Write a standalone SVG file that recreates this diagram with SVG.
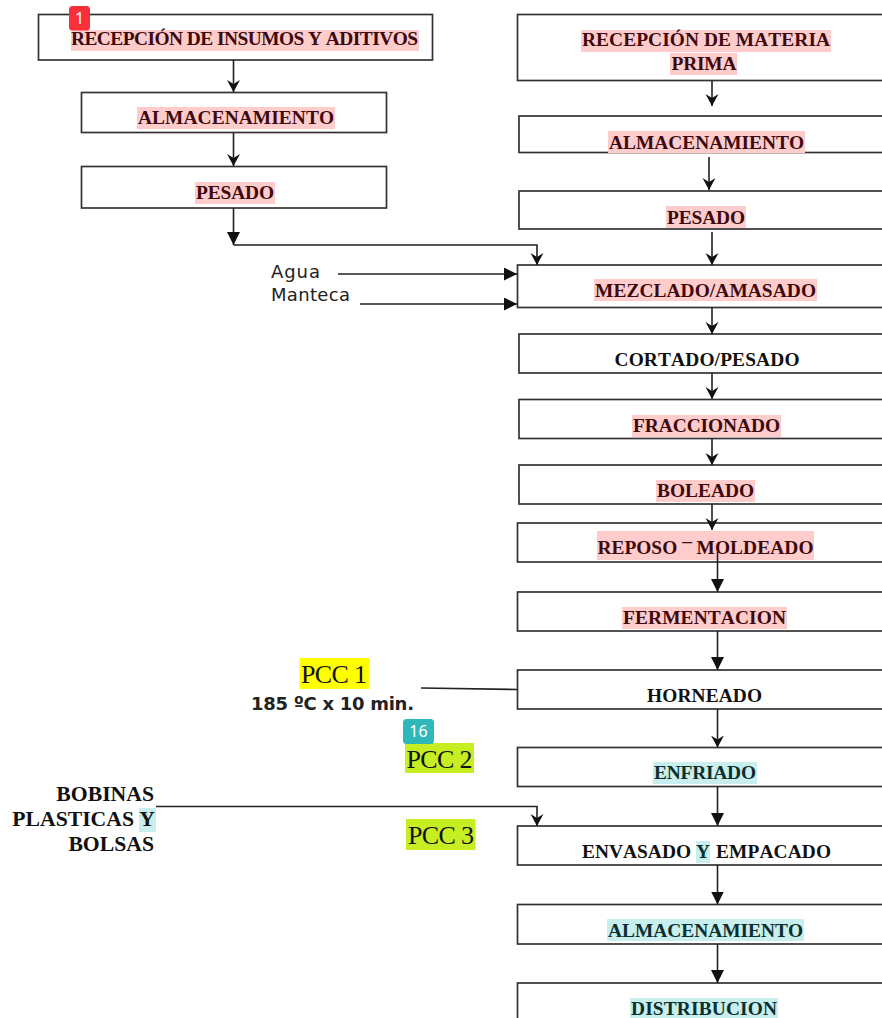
<svg xmlns="http://www.w3.org/2000/svg" width="882" height="1018" viewBox="0 0 882 1018">
<style>
.box{fill:#fff;stroke:#333;stroke-width:1.7}
.c{fill:none;stroke:#222;stroke-width:1.6}
.t{font-family:"Liberation Serif",serif;font-weight:700;font-size:19.4px;font-kerning:none;text-anchor:middle;fill:#111}
.r{fill:#3c0a0e}.g{fill:#0b2f2f}
.hr{fill:#ffcccc}.hg{fill:#c9eeee}
.p{font-family:"Liberation Serif",serif;font-size:26px;font-kerning:none;text-anchor:middle;fill:#111}
.s{font-family:"DejaVu Sans",sans-serif;font-size:18px;fill:#222}
.b{font-family:"Liberation Serif",serif;font-weight:700;font-size:21.7px;font-kerning:none;text-anchor:end;fill:#111}
.n{font-family:"Noto Sans",sans-serif;font-size:16px;fill:#fff;text-anchor:middle}
</style>
<defs>
<marker id="o" markerUnits="userSpaceOnUse" markerWidth="14" markerHeight="14" refX="12" refY="6.5" orient="auto"><path d="M0 0L12 6.5L0 13L4 6.5Z" fill="#111"/></marker>
<marker id="f" markerUnits="userSpaceOnUse" markerWidth="14" markerHeight="14" refX="13" refY="6.5" orient="auto"><path d="M0 0L13 6.5L0 13Z" fill="#111"/></marker>
</defs>
<g id="n1"><rect class="box" x="38.5" y="14.5" width="394" height="45.5"/><rect class="hr" x="71" y="30" width="348" height="21"/><text class="t r" x="244.500" y="45" textLength="347">RECEPCIÓN DE INSUMOS Y ADITIVOS</text></g>
<g id="n2"><rect class="box" x="81.5" y="92.5" width="305" height="40"/><rect class="hr" x="137" y="107" width="198" height="22"/><text class="t r" x="236" y="124" textLength="196">ALMACENAMIENTO</text></g>
<g id="n3"><rect class="box" x="81.5" y="166.5" width="305" height="41.5"/><rect class="hr" x="195" y="182" width="80" height="22"/><text class="t r" x="235" y="199" textLength="78">PESADO</text></g>
<g id="n4"><rect class="box" x="517.5" y="14.5" width="380" height="66"/><rect class="hr" x="581" y="30" width="250" height="22"/><rect class="hr" x="670" y="53" width="67" height="22"/><text class="t r" x="706" y="46" textLength="248">RECEPCIÓN DE MATERIA</text><text class="t r" x="704" y="70" textLength="65">PRIMA</text></g>
<g id="n5"><rect class="box" x="519" y="116" width="380" height="36.500"/><rect class="hr" x="608" y="131" width="197" height="22"/><text class="t r" x="706.500" y="149" textLength="195">ALMACENAMIENTO</text></g>
<g id="n6"><rect class="box" x="519" y="191" width="380" height="38"/><rect class="hr" x="666" y="206" width="80" height="22"/><text class="t r" x="706" y="224" textLength="78">PESADO</text></g>
<g id="n7"><rect class="box" x="517.500" y="265" width="380" height="42.500"/><rect class="hr" x="594" y="279" width="223" height="22"/><text class="t r" x="705.500" y="297" textLength="221">MEZCLADO/AMASADO</text></g>
<g id="n8"><rect class="box" x="519" y="334" width="380" height="39"/><text class="t" x="707" y="366" textLength="185">CORTADO/PESADO</text></g>
<g id="n9"><rect class="box" x="519" y="399.500" width="380" height="39"/><rect class="hr" x="632" y="415" width="149" height="22"/><text class="t r" x="706.500" y="432" textLength="147">FRACCIONADO</text></g>
<g id="n10"><rect class="box" x="519" y="465" width="380" height="39"/><rect class="hr" x="656" y="480" width="99" height="22"/><text class="t r" x="705.500" y="497" textLength="97">BOLEADO</text></g>
<g id="n11"><rect class="box" x="517.500" y="523" width="380" height="39"/><rect class="hr" x="597" y="531" width="217" height="29"/><text class="t r" x="597.500" y="554" style="text-anchor:start">REPOSO</text><text class="t r" x="687" y="547">–</text><text class="t r" x="813.500" y="554" style="text-anchor:end" textLength="117">MOLDEADO</text></g>
<g id="n12"><rect class="box" x="517.500" y="592" width="380" height="39"/><rect class="hr" x="622" y="607" width="165" height="22"/><text class="t r" x="704.500" y="624" textLength="163">FERMENTACION</text></g>
<g id="n13"><rect class="box" x="517.500" y="670" width="380" height="39"/><text class="t" x="704.500" y="702" textLength="115">HORNEADO</text></g>
<g id="n14"><rect class="box" x="517.500" y="747.500" width="380" height="39"/><rect class="hg" x="653" y="762" width="104" height="22"/><text class="t g" x="705" y="779" textLength="102">ENFRIADO</text></g>
<g id="n15"><rect class="box" x="517.500" y="826" width="380" height="39"/><rect class="hg" x="696" y="841" width="14" height="22"/><text class="t" x="582" y="858" style="text-anchor:start" textLength="109">ENVASADO</text><text class="t g" x="703" y="858">Y</text><text class="t" x="831" y="858" style="text-anchor:end" textLength="115">EMPACADO</text></g>
<g id="n16"><rect class="box" x="517.500" y="904.500" width="380" height="39.500"/><rect class="hg" x="607" y="919" width="197" height="22"/><text class="t g" x="705.500" y="936.500" textLength="195">ALMACENAMIENTO</text></g>
<g id="n17"><rect class="box" x="517.500" y="983" width="380" height="60"/><rect class="hg" x="630" y="998" width="148" height="20"/><text class="t g" x="704" y="1015" textLength="146">DISTRIBUCION</text></g>
<g id="connectors">
<path class="c" d="M233.500 60V92" marker-end="url(#o)"/>
<path class="c" d="M233.500 132.500V166" marker-end="url(#o)"/>
<path class="c" d="M233.500 208V245" marker-end="url(#f)"/>
<path class="c" d="M233.500 245H537V265" marker-end="url(#o)"/>
<path class="c" d="M338 274H517" marker-end="url(#f)"/>
<path class="c" d="M360 304H517" marker-end="url(#f)"/>
<path class="c" d="M712 80.500V106" marker-end="url(#o)"/>
<path class="c" d="M709 157V190" marker-end="url(#o)"/>
<path class="c" d="M712 232V265" marker-end="url(#o)"/>
<path class="c" d="M712 308V334" marker-end="url(#o)"/>
<path class="c" d="M712 373V399" marker-end="url(#o)"/>
<path class="c" d="M712 438.500V465" marker-end="url(#o)"/>
<path class="c" d="M712 504V530" marker-end="url(#o)"/>
<path class="c" d="M717.500 552V592" marker-end="url(#f)"/>
<path class="c" d="M717.500 631V670" marker-end="url(#f)"/>
<path class="c" d="M717.500 709V747.500" marker-end="url(#o)"/>
<path class="c" d="M717.500 786.500V826" marker-end="url(#f)"/>
<path class="c" d="M717.500 865V904.500" marker-end="url(#f)"/>
<path class="c" d="M717.500 944V983" marker-end="url(#f)"/>
<path class="c" d="M421 688L517 689.500"/>
<path class="c" d="M156 806.500H537V826" marker-end="url(#o)"/>
</g>
<g id="l-agua"><text class="s" x="271" y="278" textLength="49">Agua</text><text class="s" x="271" y="301" textLength="79">Manteca</text></g>
<g id="l-pcc1"><rect x="299.500" y="658" width="69.500" height="31" fill="#ffff00"/><text class="p" x="334" y="683" textLength="66">PCC 1</text><text class="s" x="251" y="710" style="font-weight:700" textLength="163">185 ºC x 10 min.</text></g>
<g id="l-pcc2"><rect x="405" y="743" width="69" height="30" fill="#c6ee22"/><text class="p" x="439.500" y="768" textLength="66">PCC 2</text></g>
<g id="l-pcc3"><rect x="406" y="819" width="69.500" height="31" fill="#c6ee22"/><text class="p" x="441" y="844" textLength="66">PCC 3</text></g>
<g id="l-bobinas"><rect class="hg" x="139" y="808" width="17" height="24"/><text class="b" x="154" y="801">BOBINAS</text><text class="b" x="134" y="826">PLASTICAS</text><text class="b g" x="155" y="826">Y</text><text class="b" x="154" y="851">BOLSAS</text></g>
<g id="badge1"><rect x="69" y="6" width="21" height="24.500" rx="3.500" fill="#f8303a"/><text class="n" x="79.500" y="24">1</text></g>
<g id="badge16"><rect x="403" y="719" width="31" height="25" rx="3.500" fill="#2fb8ba"/><text class="n" x="418.500" y="737">16</text></g>
</svg>
